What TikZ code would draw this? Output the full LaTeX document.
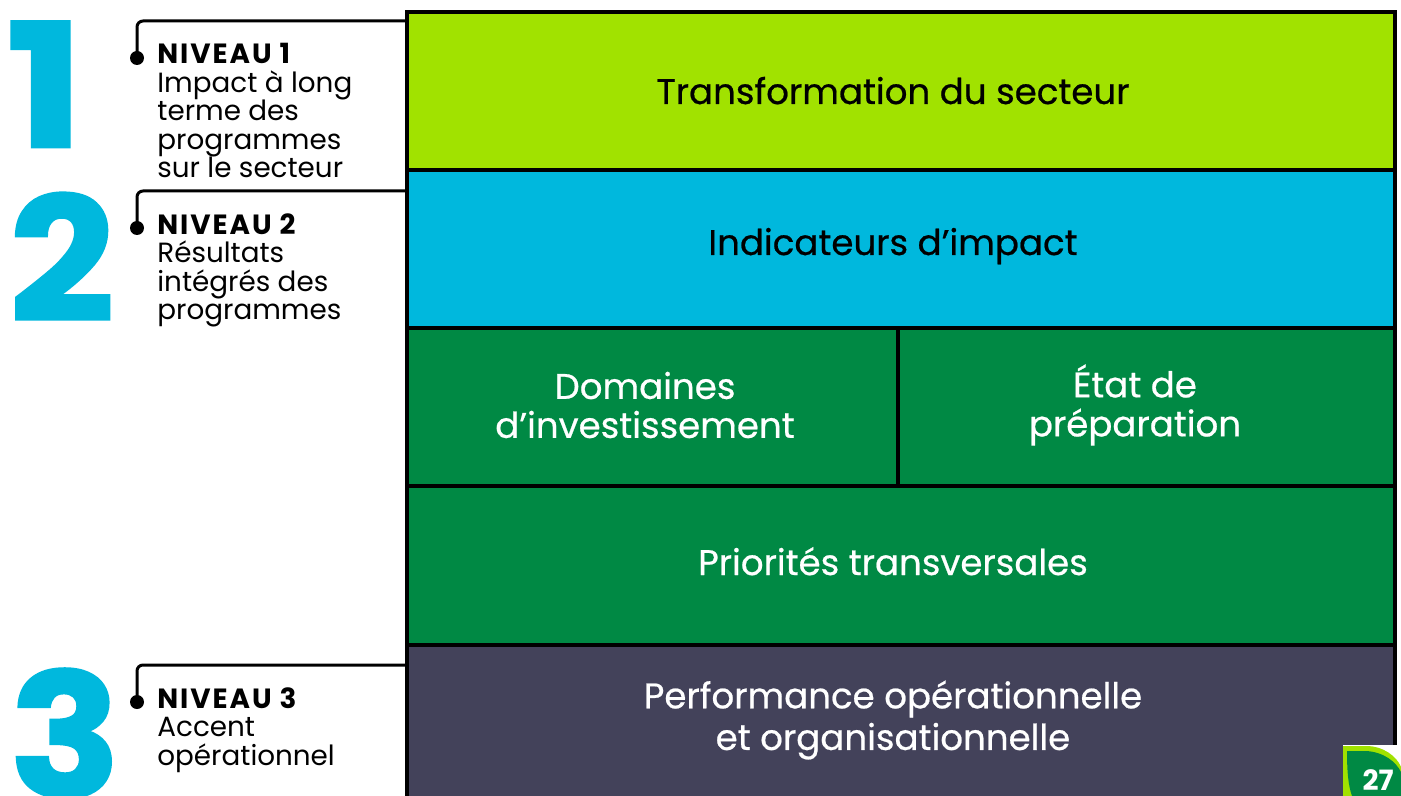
\documentclass[tikz,border=0pt]{standalone}
\usepackage{fontspec}
\setmainfont{Poppins}
\newfontfamily\medfont{Poppins}[FakeBold=0.6]
\newfontfamily\heavyfont{Poppins}[FakeBold=1.5]
\definecolor{clime}{RGB}{161,226,0}
\definecolor{ccyan}{RGB}{0,184,221}
\definecolor{cgreen}{RGB}{0,137,68}
\definecolor{cslate}{RGB}{67,66,90}
\begin{document}
\begin{tikzpicture}[x=0.5pt,y=-0.5pt,
  rowbox/.style={draw=black,line width=1.6pt,inner sep=0pt},
  boxtext/.style={inner sep=0pt,align=center,font=\medfont\fontsize{17.8}{19.5}\selectfont},
  lvltext/.style={inner sep=0pt,anchor=north west,align=left,font=\fontsize{13.9}{14.25}\selectfont},
  bignum/.style={inner sep=0pt,anchor=base west,text=ccyan,font=\heavyfont\fontsize{86}{86}\selectfont\bfseries},
  conn/.style={draw=black,line width=1.5pt,rounded corners=3pt},
  dotc/.style={fill=black}]
\useasboundingbox (0,0) rectangle (1401,796);
\fill[white] (0,0) rectangle (1401,796);
% rows
\filldraw[rowbox,fill=clime] (407,12) rectangle (1395,170);
\filldraw[rowbox,fill=ccyan] (407,170) rectangle (1395,328);
\filldraw[rowbox,fill=cgreen] (407,328) rectangle (898,486);
\filldraw[rowbox,fill=cgreen] (898,328) rectangle (1395,486);
\filldraw[rowbox,fill=cgreen] (407,486) rectangle (1395,645);
\filldraw[rowbox,fill=cslate] (407,645) rectangle (1395,810);
% texts in rows
\node[boxtext,anchor=base] (t1) at (893,104) {Transformation du secteur};
\node[boxtext,anchor=base] (t2) at (893,255) {Indicateurs d’impact};
\node[boxtext,text=white] (t3a) at (645,405) {Domaines\\d’investissement};
\node[boxtext,text=white] (t3b) at (1135,405) {État de\\préparation};
\node[boxtext,text=white,anchor=base] (t4) at (893,575) {Priorités transversales};
\node[boxtext,text=white,font=\medfont\fontsize{17.8}{20.8}\selectfont] (t5) at (893,720) {Performance opérationnelle\\et organisationnelle};
% big numbers
\node[bignum] (n1) at (6,147) {\scalebox{1.2}[1]{1}};
\node[bignum] (n2) at (9,321) {\scalebox{1.07}[1]{2}};
\node[bignum] (n3) at (9,797) {\scalebox{1.07}[1]{3}};
% connectors
\coordinate (c1) at (407,21);
\coordinate (d1) at (137,58);
\coordinate (c2) at (407,191);
\coordinate (d2) at (137,228);
\coordinate (c3) at (407,665);
\coordinate (d3) at (137,702);
\draw[conn] (c1) -| (d1);
\draw[conn] (c2) -| (d2);
\draw[conn] (c3) -| (d3);
\fill[dotc] (d1) circle (7);
\fill[dotc] (d2) circle (7);
\fill[dotc] (d3) circle (7);
% level labels
\node[lvltext] (l1) at (157,43) {{\bfseries\addfontfeatures{LetterSpace=7}NIVEAU 1}\\Impact à long\\terme des\\programmes\\sur le secteur};
\node[lvltext] (l2) at (157,213) {{\bfseries\addfontfeatures{LetterSpace=7}NIVEAU 2}\\Résultats\\intégrés des\\programmes};
\node[lvltext] (l3) at (157,687) {{\bfseries\addfontfeatures{LetterSpace=7}NIVEAU 3}\\Accent\\opérationnel};
% page badge
\fill[white] (1343,745) rectangle (1401,796);
\fill[clime] (1343,796) -- (1343,746) -- (1366,746) .. controls (1384,746) and (1397,757) .. (1401,767) -- (1401,796) -- cycle;
\fill[cgreen] (1352,796) .. controls (1348,785) and (1347,770) .. (1347,751) -- (1366,751) .. controls (1384,752) and (1396,762) .. (1401,772) -- (1401,796) -- cycle;
\node[inner sep=0pt,text=white,anchor=base,font=\fontsize{14}{14}\selectfont\bfseries] (pg) at (1378,790) {27};
\end{tikzpicture}
\end{document}
